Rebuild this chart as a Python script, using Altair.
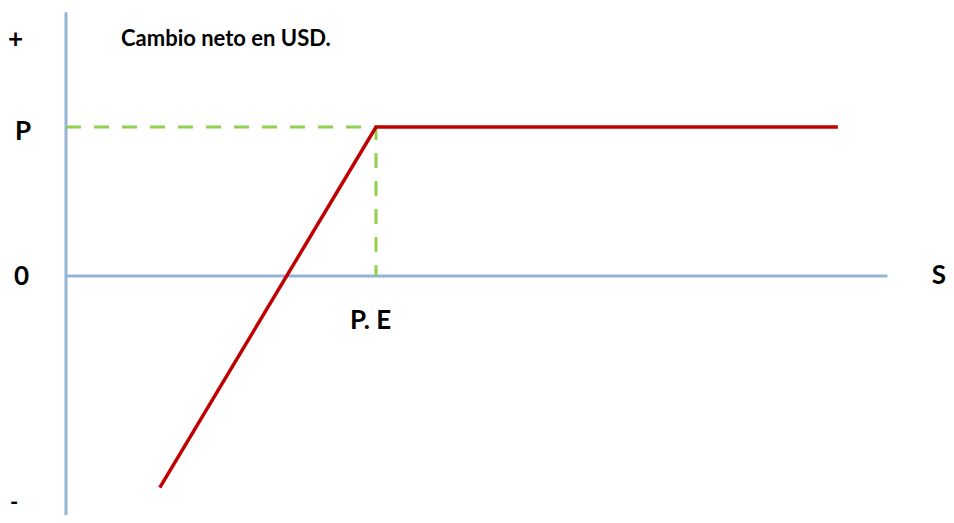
import altair as alt
import pandas as pd

# Payoff profile (S units, net change in USD units)
payoff_s = [12.1, 40.0, 99.6]
payoff_v = [-14.2, 10.0, 10.0]

# Axes extents
axis_s_end = 106.0
axis_v_top = 17.7
axis_v_bottom = -16.04

# Reference values
pe_s = 40.0
p_v = 10.0

X_DOM = [-7.484, 113.548]
Y_DOM = [-16.04, 17.987]

payoff = pd.DataFrame({"S": payoff_s, "V": payoff_v, "o": [0, 1, 2]})
haxis = pd.DataFrame({"S": [0.0, axis_s_end], "V": [0.0, 0.0], "o": [0, 1]})
vaxis = pd.DataFrame({"S": [0.0, 0.0], "V": [axis_v_bottom, axis_v_top], "o": [0, 1]})
guide = pd.DataFrame({"S": [0.0, pe_s, pe_s], "V": [p_v, p_v, 0.0], "o": [0, 1, 2]})

xs = alt.Scale(domain=X_DOM, nice=False, zero=False)
ys = alt.Scale(domain=Y_DOM, nice=False, zero=False)

def enc(ch):
    return ch.encode(
        x=alt.X("S:Q", scale=xs, axis=None),
        y=alt.Y("V:Q", scale=ys, axis=None),
        order="o:O",
    )

blue = "#95B3D7"
red = "#C00000"
green = "#92D050"
FONT = "Lato"

h = enc(alt.Chart(haxis).mark_line(color=blue, strokeWidth=3, clip=False))
v = enc(alt.Chart(vaxis).mark_line(color=blue, strokeWidth=3, clip=False))
g = enc(alt.Chart(guide).mark_line(color=green, strokeWidth=3, strokeDash=[15, 13]))
r = enc(alt.Chart(payoff).mark_line(color=red, strokeWidth=3.5))

def label(text, px, py, size, align="left", baseline="alphabetic"):
    return alt.Chart(pd.DataFrame({"t": [text]})).mark_text(
        font=FONT, fontWeight="bold", fontSize=size, align=align,
        baseline=baseline, color="black"
    ).encode(text="t:N", x=alt.value(px), y=alt.value(py))

labels = [
    label("+", 8 - 8, 48 - 8, 26),
    label("Cambio neto en USD.", 121 - 8, 46 - 8, 22),
    label("P", 15 - 8, 140 - 8, 26),
    label("0", 14 - 8, 285 - 8, 26),
    label("-", 10 - 8, 515 - 8, 22, baseline="bottom"),
    label("S", 946 - 8, 284 - 8, 26, align="right"),
    label("P. E", 350 - 8, 329 - 8, 26),
]

chart = alt.layer(h, v, g, r, *labels).properties(
    width=938, height=507, padding=0, background="white",
    autosize=alt.AutoSizeParams(type="none")
).configure_view(stroke="transparent", strokeWidth=0)

chart.save("out.html", embed_options={"renderer": "svg", "actions": False})
